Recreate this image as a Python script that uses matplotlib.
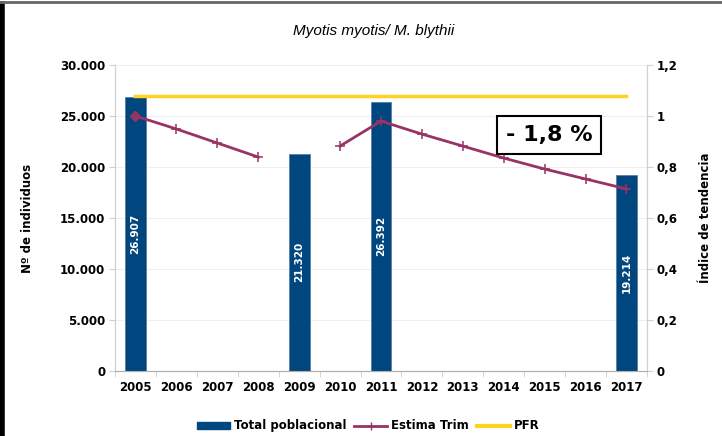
import matplotlib
matplotlib.use('Agg')
import matplotlib.pyplot as plt
import numpy as np
from matplotlib.lines import Line2D
from matplotlib.patches import Patch

plt.rcParams['font.family'] = 'DejaVu Sans'

years = ['2005', '2006', '2007', '2008', '2009', '2010', '2011',
         '2012', '2013', '2014', '2015', '2016', '2017']
total = [26907, np.nan, np.nan, np.nan, 21320, np.nan, 26392,
         np.nan, np.nan, np.nan, np.nan, np.nan, 19214]
trim = [1.0, 0.949, 0.894, 0.839, np.nan, 0.882, 0.98,
        0.929, 0.882, 0.835, 0.792, 0.753, 0.714]
pfr = [1.078] * len(years)
trend_label = '- 1,8 %'

blue = '#00467F'
purple = '#993366'
yellow = '#FFD320'
grey = '#d0d0d0'

fig = plt.figure(figsize=(7.22, 4.36), dpi=100)
ax = fig.add_axes([0.1593, 0.149, 0.7367, 0.702])
ax2 = ax.twinx()
ax.set_zorder(1)
ax2.set_zorder(2)
ax.patch.set_visible(False)

x = np.arange(len(years))

# bars (left axis)
ax.bar(x, total, width=0.51, color=blue, edgecolor='#5b7fa6', linewidth=0.6, zorder=3)
for xi, v in zip(x, total):
    if not np.isnan(v):
        ax.text(xi, v / 2, f'{v:,.0f}'.replace(',', '.'), rotation=90, ha='center', va='center',
                color='white', fontsize=7.5, fontweight='bold', zorder=4)

ax.set_ylim(0, 30000)
ax.set_yticks(np.arange(0, 30001, 5000))
ax.set_yticklabels([f'{v:,.0f}'.replace(',', '.') for v in np.arange(0, 30001, 5000)])
ax.set_xlim(-0.5, 12.5)
ax.set_xticks(x)
ax.set_xticklabels(years)
ax.set_xticks(np.arange(-0.5, 12.6, 1), minor=True)
ax.tick_params(axis='x', which='major', length=0, pad=7)
ax.tick_params(axis='x', which='minor', length=4, color=grey)
ax.tick_params(axis='y', length=4, color=grey, pad=3)
ax.grid(axis='y', color='#eeeeee', lw=0.8, zorder=0)
for lab in ax.get_xticklabels() + ax.get_yticklabels():
    lab.set_fontweight('bold')
    lab.set_fontsize(8.5)
ax.set_ylabel('Nº de individuos', fontsize=8.5, fontweight='bold')
ax.yaxis.set_label_coords(-0.165, 0.5)
ax.yaxis.label.set_verticalalignment('center')

# lines (right axis)
ax2.plot(x, pfr, color=yellow, lw=2.5, zorder=2)
ax2.plot(x, trim, color=purple, lw=2, marker='+', ms=7, mew=1.1, zorder=3)
ax2.plot(x[:1], trim[:1], color=purple, marker='D', ms=5, lw=0, zorder=3)
ax2.set_ylim(0, 1.2)
ax2.set_yticks([0, 0.2, 0.4, 0.6, 0.8, 1.0, 1.2])
ax2.set_yticklabels(['0', '0,2', '0,4', '0,6', '0,8', '1', '1,2'])
ax2.tick_params(axis='y', length=4, color=grey, pad=3)
for lab in ax2.get_yticklabels():
    lab.set_fontweight('bold')
    lab.set_fontsize(8.5)
ax2.set_ylabel('Índice de tendencia', fontsize=8.5, fontweight='bold')
ax2.yaxis.set_label_coords(1.111, 0.5)
ax2.yaxis.label.set_verticalalignment('center')

for a in (ax, ax2):
    a.spines['top'].set_visible(False)
    a.spines['left'].set_color(grey)
    a.spines['right'].set_color(grey)
    a.spines['bottom'].set_color('#b0b0b0')

ax2.text(0.816, 0.771, trend_label, transform=ax2.transAxes, ha='center', va='center',
         fontsize=16, fontweight='bold', zorder=5,
         bbox=dict(boxstyle='square,pad=0.4', fc='white', ec='black', lw=1.5))

fig.text(0.517, 0.929, 'Myotis myotis/ M. blythii', ha='center', va='center',
         fontsize=11, style='italic', fontweight='medium', family='Liberation Sans')

handles = [Patch(color=blue),
           Line2D([], [], color=purple, lw=2, marker='+', ms=6),
           Line2D([], [], color=yellow, lw=3)]
fig.legend(handles, ['Total poblacional', 'Estima Trim', 'PFR'], loc='center',
           bbox_to_anchor=(0.51, 0.023), ncol=3, frameon=False,
           prop={'weight': 'bold', 'size': 8.5}, handlelength=2.8, handleheight=0.5,
           handletextpad=0.3, columnspacing=0.7)

# window frame
fig.add_artist(Line2D([0.003, 0.003], [0, 0.99], color='black', lw=4, transform=fig.transFigure))
fig.add_artist(Line2D([0, 1], [0.995, 0.995], color='#666666', lw=2, transform=fig.transFigure))

fig.savefig('out.png', dpi=100)
